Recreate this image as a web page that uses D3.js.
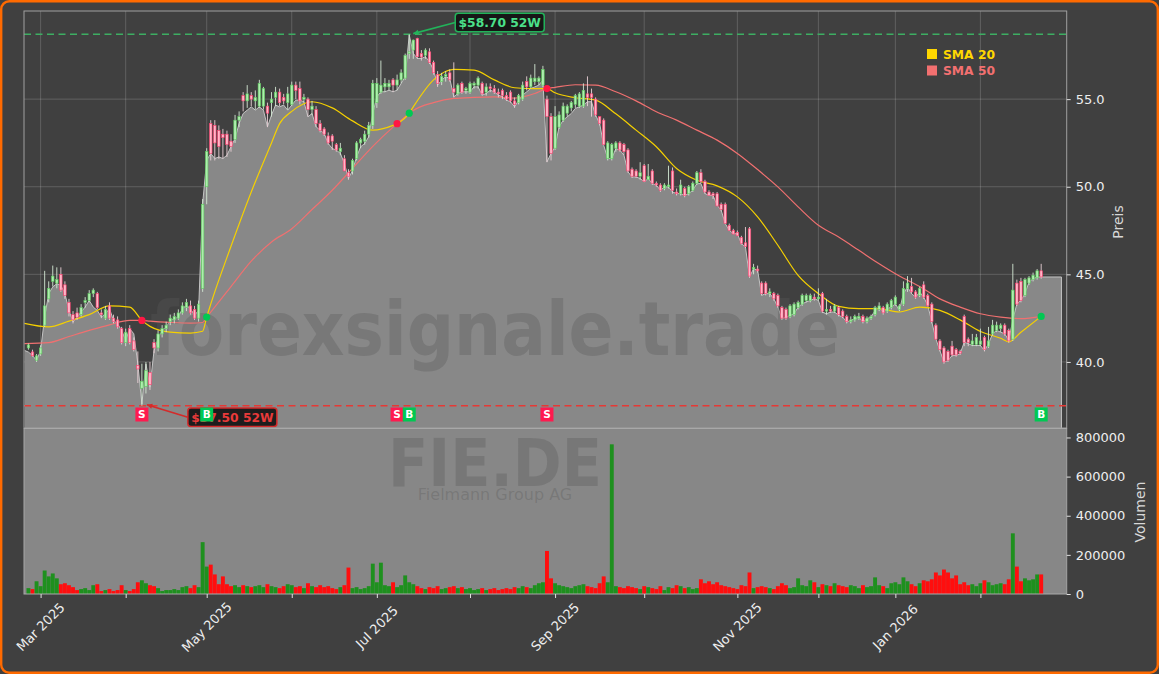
<!DOCTYPE html>
<html><head><meta charset="utf-8">
<script src="https://cdn.jsdelivr.net/npm/d3@7"></script>
<style>
html,body{margin:0;padding:0;background:#404040;}
svg{display:block;font-family:"DejaVu Sans",sans-serif;}
</style></head><body>
<svg id="chart" width="1159" height="674"></svg>
<script>
// ---------------- DATA ----------------
const START_DATE = "2025-02-26";
const HOLIDAYS = ["2025-04-18","2025-04-21","2025-05-01","2025-12-24","2025-12-25","2025-12-26","2025-12-31","2026-01-01"];
const monthLabels = ["Mar 2025","Apr 2025","May 2025","Jun 2025","Jul 2025","Aug 2025","Sep 2025","Oct 2025","Nov 2025","Dec 2025","Jan 2026","Feb 2026"];
const showMonthLabel = [true,false,true,false,true,false,true,false,true,false,true,false];
const priceTicks = [40,45,50,55];
const volumeTicks = [0,200000,400000,600000,800000];

// candles [open, high, low, close]
const ohlc = [
[40.80,41.05,40.70,40.97],[40.57,40.70,40.30,40.35],[40.10,40.45,40.00,40.35],[40.46,40.95,40.35,40.80],[42.10,45.20,42.00,43.20],
[43.60,44.60,43.40,44.20],[44.60,45.50,44.30,44.90],[44.50,45.40,44.20,44.70],[45.00,45.40,44.00,44.10],[44.40,44.60,43.60,43.80],
[43.40,43.60,42.60,42.80],[42.70,42.90,42.20,42.40],[42.80,43.10,42.40,42.55],[42.70,43.30,42.60,43.10],[43.40,43.70,43.10,43.50],
[43.50,44.10,43.40,43.90],[43.90,44.20,43.70,44.10],[43.90,44.00,43.00,43.10],[42.80,43.00,42.50,42.70],[42.50,43.20,42.40,43.00],
[43.20,43.40,42.40,42.50],[42.50,42.70,42.20,42.30],[42.40,42.60,41.90,42.00],[41.90,42.00,41.00,41.10],[41.10,41.90,40.90,41.70],
[41.90,42.10,41.00,41.10],[41.20,41.40,40.60,40.70],[39.80,40.60,38.80,39.60],[38.50,39.90,37.50,38.90],[38.60,40.00,38.20,39.50],
[39.40,40.00,38.40,38.70],[41.10,41.30,40.50,40.80],[40.80,41.80,40.60,41.60],[41.60,42.10,41.40,41.90],[41.90,42.30,41.70,42.10],
[42.30,42.70,42.10,42.50],[42.40,42.80,42.20,42.60],[42.50,43.00,42.40,42.80],[42.80,43.40,42.70,43.20],[43.10,43.60,42.90,43.40],
[43.20,43.50,42.70,42.80],[43.00,43.20,42.40,42.50],[42.50,43.50,42.30,43.30],[44.20,49.30,44.00,49.00],[50.00,52.20,49.00,52.00],
[53.60,53.80,51.50,51.90],[53.50,53.80,51.50,52.50],[53.20,53.50,51.60,52.30],[53.00,53.30,51.60,52.80],[53.00,53.20,51.70,52.40],
[52.60,53.00,52.00,52.30],[52.70,54.10,52.50,53.80],[53.80,54.30,53.40,54.00],[55.20,55.40,54.30,54.90],[54.90,55.80,54.50,55.30],
[55.20,55.40,54.60,55.00],[54.90,55.50,54.40,55.10],[54.60,56.10,54.50,55.90],[54.60,55.70,54.40,55.60],[54.60,54.80,53.40,54.20],
[54.80,55.40,54.00,55.00],[55.10,55.70,54.60,55.40],[55.40,55.60,54.60,54.80],[55.10,55.30,54.70,54.90],[54.80,55.70,54.40,55.30],
[54.70,56.00,54.60,55.80],[55.80,56.00,55.00,55.50],[55.60,56.00,54.70,54.90],[55.00,55.30,54.80,55.10],[55.00,55.10,54.00,54.40],
[54.40,54.90,54.10,54.60],[54.40,54.60,53.40,53.60],[53.60,53.80,53.10,53.20],[53.30,53.40,52.90,53.00],[52.90,53.10,52.40,52.50],
[52.90,53.00,52.10,52.60],[52.40,52.50,52.00,52.10],[52.00,52.50,51.80,52.20],[51.60,51.80,50.90,50.90],[50.80,51.00,50.40,50.60],
[50.90,51.60,50.70,51.50],[51.60,52.60,51.50,52.50],[52.50,52.80,52.20,52.70],[52.60,53.20,52.40,53.00],[53.00,53.70,52.80,53.50],
[53.50,56.10,53.30,55.90],[54.80,56.20,54.50,55.90],[55.40,57.20,55.30,55.80],[55.70,56.20,55.40,55.90],[55.70,56.10,55.50,55.90],
[56.10,56.20,55.40,55.80],[55.80,56.40,55.50,56.10],[56.10,56.70,55.90,56.50],[56.20,57.60,56.10,57.50],[57.60,58.70,57.30,57.70],
[57.80,58.40,57.30,58.37],[58.47,58.50,57.30,57.42],[57.60,57.80,57.20,57.40],[57.50,57.90,57.30,57.80],[57.70,57.90,57.00,57.10],
[57.10,57.20,56.40,56.50],[56.40,56.60,55.70,55.90],[56.00,56.50,55.80,56.30],[56.30,56.60,56.00,56.40],[56.50,56.70,56.00,56.10],
[55.60,57.10,55.10,55.40],[55.30,55.90,55.20,55.80],[55.90,56.00,55.30,55.40],[55.50,55.70,55.30,55.60],[55.40,56.00,55.30,55.90],
[55.80,56.00,55.60,55.90],[55.80,56.30,55.60,56.20],[55.90,56.00,55.20,55.30],[55.40,55.90,55.20,55.70],[55.70,55.90,55.40,55.60],
[55.60,55.80,55.30,55.40],[55.40,55.60,55.10,55.30],[55.50,55.60,55.00,55.20],[55.20,55.40,54.90,55.00],[55.40,55.50,54.80,54.90],
[54.90,55.10,54.50,54.70],[54.80,55.30,54.70,55.20],[55.00,56.00,54.90,55.80],[56.00,56.30,55.50,55.70],[55.70,56.40,55.60,56.20],
[56.00,57.00,55.80,56.20],[56.00,56.30,55.80,56.20],[55.80,56.90,55.70,56.70],[55.00,55.20,51.40,54.00],[54.00,54.20,51.50,51.90],
[52.20,54.60,52.10,54.00],[53.40,54.30,53.30,54.10],[53.80,54.80,53.70,54.60],[54.20,54.70,54.00,54.60],[54.50,54.90,54.30,54.80],
[54.70,55.30,54.50,55.20],[54.60,55.40,54.50,55.30],[54.60,55.90,54.50,55.50],[55.30,56.30,54.60,55.10],[55.30,55.60,54.00,55.10],
[55.00,55.10,54.00,54.10],[54.00,54.00,53.50,53.60],[53.80,53.90,52.40,52.40],[51.60,52.60,51.50,52.50],[51.60,52.50,51.50,52.40],
[52.20,52.60,52.00,52.50],[52.50,52.60,52.00,52.10],[52.40,52.50,51.80,52.00],[52.10,52.20,50.80,50.90],[51.00,51.10,50.50,50.60],
[50.90,51.00,50.50,50.60],[50.60,51.40,50.40,50.80],[51.20,51.30,50.30,50.30],[50.40,51.30,50.40,50.60],[50.90,51.00,50.10,50.20],
[50.20,50.30,50.00,50.10],[50.10,50.20,49.70,49.80],[49.90,50.20,49.80,50.10],[50.00,51.20,49.90,50.10],[50.90,51.10,49.60,49.80],
[49.70,49.90,49.50,49.60],[49.60,50.40,49.50,50.10],[49.90,50.00,49.40,49.50],[49.60,50.10,49.50,50.00],[49.80,50.30,49.70,50.20],
[50.20,50.90,50.10,50.80],[50.80,51.00,50.20,50.30],[50.30,50.40,49.60,49.70],[49.70,49.80,49.50,49.50],[49.60,49.70,49.30,49.50],
[49.60,49.70,48.90,48.90],[49.00,49.10,48.60,48.70],[49.00,49.10,47.90,47.90],[47.80,47.90,47.50,47.50],[47.50,47.60,47.30,47.30],
[47.40,47.50,47.20,47.20],[47.10,47.20,46.70,46.75],[46.80,47.70,46.50,46.60],[47.60,47.70,44.80,44.90],[45.30,45.60,45.00,45.40],
[45.30,45.50,45.10,45.20],[44.50,44.60,43.80,43.90],[44.50,44.60,43.80,43.90],[43.90,44.20,43.70,44.00],[43.90,44.00,43.50,43.60],
[43.80,43.90,43.10,43.20],[43.10,43.20,42.40,42.50],[43.00,43.10,42.40,42.50],[42.60,43.30,42.50,43.20],[42.70,43.40,42.60,43.30],
[43.10,43.50,43.00,43.40],[43.30,43.90,43.20,43.80],[43.50,43.90,43.40,43.80],[43.50,43.90,43.40,43.80],[43.70,43.90,43.50,43.60],
[43.60,44.20,43.50,43.70],[43.90,44.00,42.80,42.90],[42.90,43.60,42.70,43.00],[43.00,43.20,42.80,42.90],[42.90,43.30,42.80,43.20],
[43.10,43.20,42.60,42.70],[42.90,43.00,42.50,42.60],[42.60,42.70,42.20,42.30],[42.30,42.60,42.20,42.40],[42.40,42.70,42.30,42.60],
[42.50,42.80,42.40,42.60],[42.60,42.70,42.20,42.30],[42.30,42.60,42.20,42.50],[42.50,42.70,42.40,42.60],[42.70,43.20,42.60,43.10],
[43.00,43.40,42.90,43.20],[43.10,43.20,42.70,42.80],[42.90,43.40,42.80,43.30],[43.10,43.60,43.00,43.50],[43.30,43.80,43.20,43.70],
[43.00,43.30,42.90,43.20],[43.30,44.60,43.20,44.20],[44.20,44.90,44.00,44.50],[44.30,44.80,43.90,44.00],[44.00,44.10,43.60,43.70],
[43.80,44.30,43.70,44.20],[44.40,44.60,43.60,43.70],[43.80,43.90,43.20,43.20],[43.30,43.40,42.20,42.30],[42.10,42.20,41.30,41.30],
[41.20,41.30,40.60,40.70],[40.80,40.90,39.90,40.00],[40.60,40.70,40.00,40.10],[40.90,41.20,40.30,40.40],[40.70,40.80,40.30,40.40],
[40.60,40.70,40.40,40.50],[42.60,42.70,40.90,41.10],[41.30,41.40,40.90,41.10],[41.00,41.60,40.90,41.20],[41.00,41.60,40.90,41.40],
[41.00,41.90,40.90,41.20],[41.40,41.50,40.60,40.70],[40.90,42.00,40.80,41.20],[41.60,42.40,41.50,42.10],[41.80,42.30,41.70,42.10],
[41.90,42.20,41.70,42.10],[42.10,42.20,41.50,41.60],[41.80,41.90,41.10,41.20],[41.30,45.60,41.20,44.10],[44.50,44.70,43.20,43.30],
[44.60,44.80,43.40,43.50],[43.80,44.80,43.70,44.70],[44.50,44.90,44.40,44.80],[44.70,45.10,44.60,44.95],[44.80,45.30,44.70,45.20],
[45.20,45.60,44.75,44.85]
];

// grey price line (filled area)
const areaLeadIn = 40.65;
const closeLine = [
40.56,40.37,40.08,40.65,42.56,43.9,44.28,44.47,44.37,43.9,
42.94,42.28,42.56,42.85,43.13,43.51,43.13,42.94,42.56,42.75,
43.04,42.37,42.18,41.8,41.23,41.9,41.61,39.89,37.6,39.89,
38.56,40.65,41.32,41.8,41.99,42.37,42.47,42.56,43.04,43.23,
43.04,42.66,42.94,49.04,51.51,51.9,51.61,51.7,51.61,51.8,
52.28,52.75,53.61,54.18,54.37,54.56,54.37,54.56,54.37,53.42,
54.09,54.66,54.56,54.66,54.37,54.66,54.94,54.94,54.85,53.99,
54.18,53.42,53.23,53.04,52.47,52.18,52.09,51.9,51.32,50.47,
50.94,51.7,52.28,52.47,52.85,54.18,55.13,55.42,55.42,55.51,
55.42,55.51,55.9,56.28,58.66,57.61,57.32,57.32,57.42,57.13,
56.66,55.8,56.09,56.28,56.18,55.13,55.32,55.42,55.42,55.42,
55.7,55.7,55.23,55.32,55.51,55.42,55.23,55.13,54.94,54.85,
54.56,54.94,55.23,55.42,55.61,55.7,55.8,56.09,51.42,51.9,
52.28,53.42,53.8,53.99,54.18,54.47,54.56,54.66,54.85,54.85,
54.09,53.61,52.37,51.61,51.61,52.18,52.09,51.8,50.85,50.56,
50.56,50.47,50.28,50.47,50.18,50.09,49.8,49.99,49.99,49.7,
49.61,49.61,49.51,49.61,49.8,50.18,50.18,49.61,49.51,49.51,
48.94,48.66,47.9,47.51,47.32,47.32,46.75,46.56,44.85,45.32,
45.23,43.8,43.9,43.9,43.61,43.13,42.47,42.56,42.66,42.75,
43.13,43.32,43.42,43.51,43.61,43.51,42.85,42.75,42.85,42.85,
42.66,42.56,42.28,42.37,42.47,42.56,42.28,42.47,42.56,42.94,
43.13,42.85,43.04,43.13,43.32,42.94,43.9,44.28,43.9,43.7,
43.99,43.7,43.23,42.28,41.32,40.65,39.99,40.08,40.37,40.37,
40.47,41.13,41.04,40.94,40.94,40.94,40.65,41.04,41.61,41.8,
41.7,41.61,41.23,42.4,43.32,43.51,43.9,44.56,44.75,44.85,
44.85
];
const areaTailEnd = 255;

const volumes = [
30000,25000,65000,40000,120000,90000,105000,80000,50000,55000,
45000,35000,20000,25000,30000,20000,45000,50000,15000,20000,
25000,15000,20000,45000,20000,15000,25000,60000,70000,55000,
45000,40000,30000,15000,20000,20000,25000,20000,35000,40000,
30000,45000,35000,265000,140000,150000,100000,50000,90000,50000,
40000,45000,35000,45000,40000,35000,40000,45000,35000,50000,
40000,35000,30000,40000,50000,45000,35000,40000,30000,55000,
40000,35000,45000,35000,40000,30000,25000,35000,45000,135000,
30000,35000,25000,30000,40000,155000,60000,160000,45000,40000,
60000,35000,45000,95000,60000,50000,40000,30000,25000,35000,
30000,40000,25000,30000,35000,40000,30000,35000,25000,30000,
20000,25000,30000,20000,25000,30000,20000,25000,30000,25000,
35000,30000,40000,35000,30000,45000,55000,60000,220000,80000,
55000,45000,40000,35000,30000,40000,45000,50000,40000,35000,
30000,55000,90000,60000,765000,40000,35000,30000,40000,35000,
30000,25000,40000,35000,30000,25000,40000,20000,35000,30000,
45000,40000,30000,35000,25000,30000,75000,55000,65000,50000,
60000,45000,40000,35000,30000,25000,45000,40000,110000,30000,
35000,40000,35000,30000,25000,40000,55000,45000,30000,35000,
80000,45000,40000,70000,60000,35000,50000,45000,40000,55000,
45000,40000,35000,45000,40000,30000,45000,35000,40000,85000,
45000,40000,30000,55000,60000,50000,85000,65000,50000,40000,
55000,70000,65000,75000,110000,95000,125000,110000,80000,95000,
50000,60000,45000,50000,40000,55000,70000,60000,45000,50000,
55000,50000,75000,310000,140000,65000,80000,70000,75000,100000,
100000
];

const sma20Idx = [-1,5,10,15,20,25,28,30,35,40,43,44,45,50,55,60,62,65,70,75,80,85,90,91,94,95,100,105,110,115,120,125,128,130,135,140,145,150,155,160,165,170,175,180,185,190,195,200,205,210,215,220,225,230,235,240,242,245,250];
const sma20Val = [42.2,42.0,42.33,42.7,43.2,43.13,42.37,42.03,41.7,41.65,41.75,42.56,43.3,46.6,49.7,52.5,53.6,54.3,54.85,54.5,53.76,53.23,53.5,53.6,54.2,54.56,56.1,56.7,56.66,56.1,55.65,55.6,55.6,55.36,55.08,54.94,54.16,53.23,52.28,51.04,50.37,50.05,49.42,48.28,46.66,44.94,43.9,43.17,43.04,43.04,42.85,43.13,42.94,42.4,41.74,41.35,41.15,41.7,42.6];
const sma50Idx = [-1,5,10,15,20,25,28,30,35,40,43,44,45,50,55,60,65,70,75,80,85,90,91,94,95,100,105,110,115,120,125,128,130,135,140,145,150,155,160,165,170,175,180,185,190,195,200,205,210,215,220,225,230,235,240,245,250];
const sma50Val = [41.04,41.1,41.45,41.8,42.12,42.37,42.37,42.33,42.26,42.22,42.25,42.56,42.85,44.3,45.75,46.85,47.6,48.7,49.8,51.05,52.3,53.4,53.6,54.18,54.35,54.8,55.04,55.1,55.13,55.06,55.32,55.6,55.67,55.82,55.8,55.42,54.9,54.28,53.8,53.23,52.66,51.9,50.98,49.99,48.85,47.8,47.13,46.37,45.6,44.9,44.31,43.6,43.13,42.75,42.56,42.47,42.6];

const signalIdx = [28,44,91,94,128,250];
const signalType = ["S","B","S","B","S","B"];
const signalPrice = [42.37,42.56,53.6,54.2,55.6,42.6];

const high52 = {idx:94, value:58.70, label:"$58.70 52W"};
const low52 = {idx:28, value:37.50, label:"$37.50 52W"};

const legendNames = ["SMA 20","SMA 50"];
const legendColors = ["#ffd700","#f27070"];

// ---------------- LAYOUT ----------------
const W=1159,H=674;
const L=24, R=1066.7, PT=11, PB=428, VT=428.5, VB=594;
const svg = d3.select("#chart");

function tradingDays(start,n,holidays){
  const hs=new Set(holidays), out=[]; const d=new Date(start+"T00:00:00Z");
  while(out.length<n){const wd=d.getUTCDay(); const iso=d.toISOString().slice(0,10);
    if(wd!==0&&wd!==6&&!hs.has(iso)) out.push(new Date(d)); d.setUTCDate(d.getUTCDate()+1);}
  return out;
}
const dates = tradingDays(START_DATE, ohlc.length, HOLIDAYS);
const monthStarts = [];
for(let i=1;i<dates.length;i++){ if(dates[i].getUTCMonth()!==dates[i-1].getUTCMonth()) monthStarts.push(i); }

const x = d3.scaleLinear().domain([-1.1,256.3]).range([L,R]);
const y = d3.scaleLinear().domain([36.23,60.03]).range([PB,PT]);
const yv = d3.scaleLinear().domain([0,845860]).range([VB,VT]);

svg.append("rect").attr("width",W).attr("height",H).attr("fill","#404040");

const defs = svg.append("defs");
defs.append("clipPath").attr("id","clipP").append("rect").attr("x",L).attr("y",PT).attr("width",R-L).attr("height",PB-PT);
defs.append("clipPath").attr("id","clipV").append("rect").attr("x",L).attr("y",VT).attr("width",R-L).attr("height",VB-VT);

// price panel
const gp = svg.append("g").attr("clip-path","url(#clipP)");
gp.append("rect").attr("x",L).attr("y",PT).attr("width",R-L).attr("height",PB-PT).attr("fill","#404040");
gp.selectAll(".vg").data(monthStarts).join("line").attr("x1",d=>x(d)).attr("x2",d=>x(d)).attr("y1",PT).attr("y2",PB)
  .attr("stroke","#ffffff").attr("stroke-opacity",0.17).attr("stroke-width",1);
gp.selectAll(".hg").data(priceTicks).join("line").attr("x1",L).attr("x2",R).attr("y1",d=>y(d)).attr("y2",d=>y(d))
  .attr("stroke","#ffffff").attr("stroke-opacity",0.17).attr("stroke-width",1);

// area
const areaPts = [[-0.9,areaLeadIn]].concat(closeLine.map((v,i)=>[i,v])).concat([[areaTailEnd,closeLine[closeLine.length-1]]]);
gp.append("path").datum(areaPts).attr("d",d3.area().x(d=>x(d[0])).y0(y(36.23)).y1(d=>y(d[1])))
  .attr("fill","#888888");
gp.append("path").datum(areaPts.concat([[areaTailEnd,36.23]])).attr("d",d3.line().x(d=>x(d[0])).y(d=>y(d[1])))
  .attr("fill","none").attr("stroke","#c4c4c4").attr("stroke-width",1);

// watermark
gp.append("text").attr("x",495).attr("y",355).attr("text-anchor","middle").attr("font-size",74).attr("font-weight","bold")
  .attr("textLength",690).attr("lengthAdjust","spacingAndGlyphs")
  .attr("fill","#585858").attr("fill-opacity",0.33).text("forexsignale.trade");

// 52W lines
gp.append("line").attr("x1",L).attr("x2",R).attr("y1",y(high52.value)).attr("y2",y(high52.value))
  .attr("stroke","#3dae62").attr("stroke-width",1.5).attr("stroke-dasharray","7,4.5");
gp.append("line").attr("x1",L).attr("x2",R).attr("y1",y(low52.value)).attr("y2",y(low52.value))
  .attr("stroke","#e53935").attr("stroke-width",1.5).attr("stroke-dasharray","7,4.5");

// SMA lines
const smaLine = d3.line().curve(d3.curveMonotoneX).x(d=>x(d[0])).y(d=>y(d[1]));
gp.append("path").datum(sma50Idx.map((v,i)=>[v,sma50Val[i]])).attr("d",smaLine).attr("fill","none").attr("stroke","#f07070").attr("stroke-width",1.2);
gp.append("path").datum(sma20Idx.map((v,i)=>[v,sma20Val[i]])).attr("d",smaLine).attr("fill","none").attr("stroke","#f5d000").attr("stroke-width",1.2);

// candles
const cd = ohlc.map((d,i)=>({i,o:d[0],h:d[1],l:d[2],c:d[3],up:d[3]>=d[0]}));
gp.selectAll(".wick").data(cd).join("line").attr("x1",d=>x(d.i)).attr("x2",d=>x(d.i)).attr("y1",d=>y(d.h)).attr("y2",d=>y(d.l))
  .attr("stroke",d=>d.up?"#d4e8d4":"#ead0d6").attr("stroke-width",0.9);
const bw = 2.5;
gp.selectAll(".body").data(cd).join("rect").attr("x",d=>x(d.i)-bw/2).attr("width",bw)
  .attr("y",d=>y(Math.max(d.o,d.c))).attr("height",d=>Math.max(1,Math.abs(y(d.o)-y(d.c))))
  .attr("fill",d=>d.up?"#aeeeae":"#ffb6c8").attr("stroke",d=>d.up?"#5cc85c":"#ff3b6b").attr("stroke-width",0.6);

// signal dots
gp.selectAll(".sd").data(signalIdx).join("circle").attr("cx",d=>x(d)).attr("cy",(d,i)=>y(signalPrice[i])).attr("r",3.6)
  .attr("fill",(d,i)=>signalType[i]==="B"?"#00c853":"#ff1744");

// 52W labels
function label52(info, color, textColor, dx, dyBox, arrowEnd){
  const px=x(info.idx), py=y(info.value);
  const bx=px+dx, by=py+dyBox, bwid=89, bh=18.5;
  const g = svg.append("g");
  g.append("line").attr("x1",bx).attr("y1",by+bh/2).attr("x2",px+arrowEnd[0]).attr("y2",py+arrowEnd[1]).attr("stroke",color).attr("stroke-width",1.6);
  const ang = Math.atan2(arrowEnd[1]-(dyBox+bh/2), arrowEnd[0]-dx);
  const tx=px+arrowEnd[0], ty=py+arrowEnd[1], s=6;
  g.append("path").attr("d",`M${tx},${ty}L${tx-s*Math.cos(ang-0.45)},${ty-s*Math.sin(ang-0.45)}L${tx-s*Math.cos(ang+0.45)},${ty-s*Math.sin(ang+0.45)}Z`).attr("fill",color);
  g.append("rect").attr("x",bx).attr("y",by).attr("width",bwid).attr("height",bh).attr("rx",3)
    .attr("fill","#141414").attr("fill-opacity",0.92).attr("stroke",color).attr("stroke-width",1.5);
  g.append("text").attr("x",bx+bwid/2).attr("y",by+bh/2+4.3).attr("text-anchor","middle").attr("font-size",12.3).attr("font-weight","bold")
    .attr("fill",textColor).text(info.label);
}
label52(high52,"#22b35a","#4be08a",46,-21,[4,-0.7]);
label52(low52,"#d42a2a","#e83a3a",46,2.3,[5,-1]);

// signal markers
const mk = svg.append("g");
signalIdx.forEach((d,i)=>{
  const cx=x(d), cy=414.5;
  mk.append("rect").attr("x",cx-6.5).attr("y",cy-7).attr("width",13).attr("height",14)
    .attr("fill",signalType[i]==="B"?"#00c853":"#ff1a4f");
  mk.append("text").attr("x",cx).attr("y",cy+3.8).attr("text-anchor","middle").attr("font-size",10.5).attr("font-weight","bold")
    .attr("fill","#ffffff").text(signalType[i]);
});

// legend
legendNames.forEach((n,i)=>{
  svg.append("rect").attr("x",927).attr("y",49+i*16.5).attr("width",10).attr("height",10).attr("fill",legendColors[i]);
  svg.append("text").attr("x",943).attr("y",58.5+i*16.5).attr("font-size",12.3).attr("font-weight","bold").attr("fill",legendColors[i]).text(n);
});

// volume panel
const gv = svg.append("g").attr("clip-path","url(#clipV)");
gv.append("rect").attr("x",L).attr("y",VT).attr("width",R-L).attr("height",VB-VT).attr("fill","#878787");
gv.append("text").attr("x",495).attr("y",486).attr("text-anchor","middle").attr("font-size",66).attr("font-weight","bold")
  .attr("textLength",214).attr("lengthAdjust","spacingAndGlyphs")
  .attr("fill","#585858").attr("fill-opacity",0.33).text("FIE.DE");
gv.append("text").attr("x",495).attr("y",500).attr("text-anchor","middle").attr("font-size",16)
  .attr("fill","#585858").attr("fill-opacity",0.33).text("Fielmann Group AG");
gv.selectAll(".vb").data(cd).join("rect").attr("x",d=>x(d.i)-1.95).attr("width",3.9)
  .attr("y",d=>yv(volumes[d.i])).attr("height",d=>VB-yv(volumes[d.i]))
  .attr("fill",d=>d.up?"#1e901e":"#ff0e0e");

// frames
svg.append("rect").attr("x",L).attr("y",PT).attr("width",R-L).attr("height",PB-PT).attr("fill","none").attr("stroke","#a0a0a0").attr("stroke-width",1);
svg.append("rect").attr("x",L).attr("y",VT).attr("width",R-L).attr("height",VB-VT).attr("fill","none").attr("stroke","#a8a8a8").attr("stroke-width",1);

// axes
const yAxis = d3.axisRight(y).tickValues(priceTicks).tickFormat(d3.format(".1f")).tickSize(4).tickPadding(5);
const ga = svg.append("g").attr("transform",`translate(${R},0)`).call(yAxis);
const vAxis = d3.axisRight(yv).tickValues(volumeTicks).tickFormat(d3.format("d")).tickSize(4).tickPadding(5);
const gva = svg.append("g").attr("transform",`translate(${R},0)`).call(vAxis);
const xAxis = d3.axisBottom(x).tickValues(monthStarts).tickFormat(()=> "").tickSize(4);
const gxa = svg.append("g").attr("transform",`translate(0,${VB})`).call(xAxis);
[ga,gva,gxa].forEach(g=>{
  g.select(".domain").remove();
  g.selectAll(".tick line").attr("stroke","#e0e0e0");
  g.selectAll(".tick text").attr("fill","#eeeeee").attr("font-size",13).attr("font-family","DejaVu Sans");
});
monthStarts.forEach((m,k)=>{
  if(!showMonthLabel[k]) return;
  svg.append("text").attr("transform",`translate(${x(m)},627) rotate(-45)`).attr("text-anchor","middle").attr("dy","0.35em")
    .attr("font-size",13).attr("fill","#eeeeee").text(monthLabels[k]);
});

// axis titles
svg.append("text").attr("transform","translate(1123,222) rotate(-90)").attr("text-anchor","middle").attr("font-size",14).attr("fill","#d8d8d8").text("Preis");
svg.append("text").attr("transform","translate(1145,512) rotate(-90)").attr("text-anchor","middle").attr("font-size",14).attr("fill","#d8d8d8").text("Volumen");

// outer orange frame
svg.append("rect").attr("x",1.2).attr("y",1.2).attr("width",W-2.4).attr("height",H-2.4).attr("rx",8)
  .attr("fill","none").attr("stroke","#ff6a00").attr("stroke-width",2.4);
</script>
</body></html>
